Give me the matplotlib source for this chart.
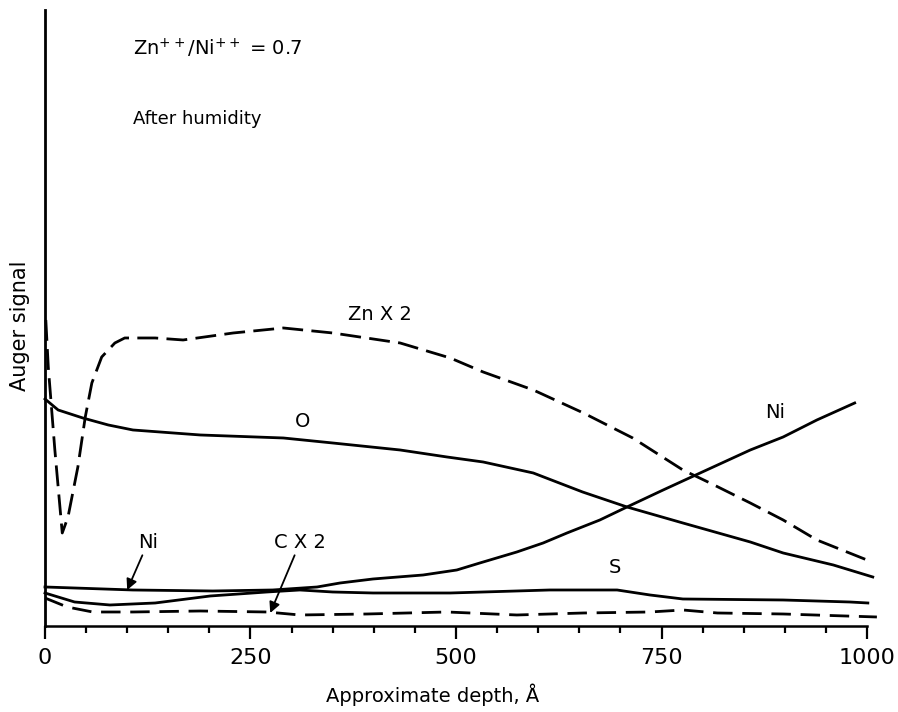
import numpy as np
import matplotlib
matplotlib.use('Agg')
import matplotlib.pyplot as plt

plt.rcParams['font.family'] = ['DejaVu Sans']

# depth in angstrom, signal in arbitrary units
o_depth = [0, 16, 46, 77, 107, 189, 290, 350, 432, 489, 533, 594, 654, 708, 776, 858, 898, 959, 1007]
o_sig = [22.7, 21.6, 20.8, 20.1, 19.6, 19.1, 18.8, 18.3, 17.6, 16.9, 16.4, 15.3, 13.4, 11.9, 10.3, 8.4, 7.3, 6.1, 4.9]

zn_depth = [1, 4, 12, 21, 28, 40, 49, 57, 69, 85, 97, 134, 168, 229, 290, 350, 432, 493, 533,
            594, 655, 715, 776, 809, 858, 898, 939, 1000]
zn_sig = [30.6, 25.9, 17.6, 9.3, 10.9, 15.9, 20.9, 24.3, 26.9, 28.3, 28.8, 28.8, 28.6, 29.3, 29.8,
          29.3, 28.3, 26.8, 25.4, 23.6, 21.3, 18.8, 15.6, 14.3, 12.3, 10.6, 8.6, 6.6]

ni_depth = [0, 107, 204, 277, 331, 359, 399, 460, 501, 529, 574, 606, 635, 675, 708, 752, 797, 858,
            898, 939, 985]
ni_sig = [3.9, 3.6, 3.5, 3.6, 3.9, 4.3, 4.7, 5.1, 5.6, 6.3, 7.4, 8.3, 9.3, 10.6, 11.9, 13.6, 15.3,
          17.6, 18.9, 20.6, 22.3]

s_depth = [0, 36, 79, 134, 201, 270, 310, 350, 399, 493, 614, 696, 736, 776, 898, 979, 1001]
s_sig = [3.3, 2.4, 2.1, 2.3, 3.0, 3.4, 3.6, 3.4, 3.3, 3.3, 3.6, 3.6, 3.1, 2.7, 2.6, 2.4, 2.3]

c_depth = [0, 27, 58, 107, 189, 270, 310, 392, 489, 574, 655, 736, 776, 818, 898, 1012]
c_sig = [2.8, 1.9, 1.4, 1.4, 1.5, 1.4, 1.1, 1.2, 1.4, 1.1, 1.3, 1.4, 1.6, 1.3, 1.2, 0.9]

xticks = [0, 250, 500, 750, 1000]

fig = plt.figure(figsize=(8.98, 7.12), dpi=100)
ax = fig.add_axes([0.0501, 0.1208, 0.9154, 0.8652])

lw = 2.0
ax.plot(o_depth, o_sig, color='black', lw=lw, clip_on=False)
ax.plot(zn_depth, zn_sig, color='black', lw=lw, dashes=(7.5, 3), clip_on=False)
ax.plot(ni_depth, ni_sig, color='black', lw=lw, clip_on=False)
ax.plot(s_depth, s_sig, color='black', lw=lw, clip_on=False)
ax.plot(c_depth, c_sig, color='black', lw=lw, dashes=(7, 3.5), clip_on=False)

ax.set_xlim(0, 1000)
ax.set_ylim(0, 61.6)

ax.spines['top'].set_visible(False)
ax.spines['right'].set_visible(False)
ax.spines['left'].set_linewidth(2.0)
ax.spines['bottom'].set_linewidth(1.8)

ax.set_xticks(xticks)
ax.set_xticks(np.arange(0, 1001, 50), minor=True)
ax.tick_params(axis='x', which='major', direction='out', length=9.5, width=1.6, pad=6.5, labelsize=16)
ax.tick_params(axis='x', which='minor', direction='out', length=5, width=1.6)
ax.set_yticks([])

# text annotations
ax.text(107, 57.8, r'Zn$^{++}$/Ni$^{++}$ = 0.7', fontsize=14, ha='left', va='center')
ax.text(107, 50.7, 'After humidity', fontsize=13, ha='left', va='center')
ax.text(407, 31.1, 'Zn X 2', fontsize=14, ha='center', va='center')
ax.text(313, 20.4, 'O', fontsize=14, ha='center', va='center')
ax.text(888, 21.3, 'Ni', fontsize=14, ha='center', va='center')
ax.text(693, 5.8, 'S', fontsize=14, ha='center', va='center')

arrow = dict(arrowstyle='-|>', color='black', lw=1.3, mutation_scale=16, shrinkA=0, shrinkB=0)
ax.annotate('Ni', xy=(100, 3.6), xytext=(125, 8.3), fontsize=14, ha='center', va='center',
            arrowprops=arrow, annotation_clip=False)
ax.annotate('C X 2', xy=(274, 1.3), xytext=(310, 8.3), fontsize=14, ha='center', va='center',
            arrowprops=arrow, annotation_clip=False)

ax.text(-25 / 822, 0.487, 'Auger signal', transform=ax.transAxes, rotation=90,
        fontsize=15, ha='center', va='center')
ax.text(0.471, -0.112, 'Approximate depth, Å', transform=ax.transAxes,
        fontsize=14, ha='center', va='center')

fig.savefig('out.png', dpi=100)
